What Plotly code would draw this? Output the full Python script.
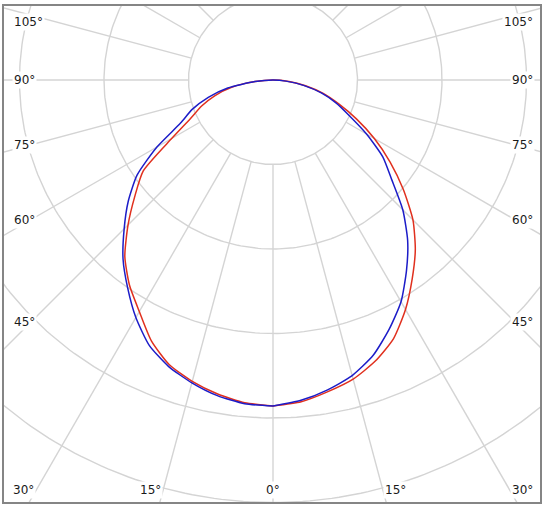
import numpy as np
import plotly.graph_objects as go

# Polar intensity data (cd/klm), gamma angle from nadir in degrees
gamma = [0, 5, 10, 15, 20, 25, 30, 35, 40, 45, 50, 55, 60, 65, 70, 75, 80, 85, 90]
c180 = [385.8, 384.6, 379.3, 371.0, 360.9, 346.5, 324.6, 300.0, 276.1, 249.1,
        223.7, 196.4, 158.6, 120.7, 101.8, 79.3, 54.4, 21.3, 0]   # blue, left
c0 = [385.8, 380.5, 372.3, 362.1, 346.7, 325.4, 303.0, 275.4, 247.9, 217.2,
      183.4, 158.6, 127.8, 99.4, 79.3, 59.2, 36.7, 15.4, 0]       # blue, right
c270 = [385.8, 383.4, 377.3, 369.2, 358.6, 340.6, 316.4, 296.2, 272.8, 242.6,
        213.3, 187.4, 138.5, 107.7, 89.9, 71.0, 49.7, 21.3, 0]    # red, left
c90 = [385.8, 382.2, 374.5, 366.5, 354.0, 337.6, 313.6, 287.2, 262.0, 234.2,
       201.2, 169.2, 138.5, 108.9, 82.8, 61.5, 39.1, 18.9, 0]     # red, right

ring_values = [100, 200, 300, 400, 500, 600, 700]
spoke_step = 15
side_labels = [105, 90, 75, 60, 45]
bottom_labels = [-30, -15, 0, 15, 30]

GRID = "#d4d4d4"
FRAME = "#858585"

def to_xy(angles, left, right):
    a_l = np.radians(np.array(angles[::-1], dtype=float))
    r_l = np.array(left[::-1], dtype=float)
    a_r = np.radians(np.array(angles, dtype=float))
    r_r = np.array(right, dtype=float)
    x = np.concatenate([-r_l * np.sin(a_l), r_r * np.sin(a_r)])
    y = np.concatenate([-r_l * np.cos(a_l), -r_r * np.cos(a_r)])
    return x, y

fig = go.Figure()

# rings
t = np.linspace(0, 2 * np.pi, 361)
gx, gy = [], []
for rv in ring_values:
    gx += list(rv * np.sin(t)) + [None]
    gy += list(rv * np.cos(t)) + [None]
# spokes (start at first ring)
for ang in np.arange(0, 360, spoke_step):
    a = np.radians(ang)
    gx += [ring_values[0] * np.sin(a), 2000 * np.sin(a), None]
    gy += [-ring_values[0] * np.cos(a), -2000 * np.cos(a), None]
fig.add_trace(go.Scatter(x=gx, y=gy, mode="lines", line=dict(color=GRID, width=1.4),
                         hoverinfo="skip", showlegend=False))

xr, yr = to_xy(gamma, c270, c90)
fig.add_trace(go.Scatter(x=xr, y=yr, mode="lines", name="C90-C270",
                         line=dict(color="#e0301e", width=1.5, shape="spline", smoothing=0.6),
                         showlegend=False))
xb, yb = to_xy(gamma, c180, c0)
fig.add_trace(go.Scatter(x=xb, y=yb, mode="lines", name="C0-C180",
                         line=dict(color="#1c1cc8", width=1.5, shape="spline", smoothing=0.6),
                         showlegend=False))

W, H = 548, 508
ml, mr, mt, mb = 4, 8, 6, 6
cx, cy = 273, 80
k = 100 / 84.5  # data units per pixel
side_x = 242 * k
bottom_y = 410 * k
left_x = (12 - cx) * k
right_x = (535 - cx) * k
font = dict(family="DejaVu Sans", size=12, color="#1a1a1a")
for lab in side_labels:
    a = np.radians(lab)
    yy = -side_x / np.tan(a) if lab != 90 else 0.0
    yy = min(yy, 58 * k)
    fig.add_annotation(x=left_x, y=yy, text=f"{lab}°", showarrow=False,
                       xanchor="left", yanchor="middle",
                       bgcolor="white", borderpad=1, font=font)
    fig.add_annotation(x=right_x, y=yy, text=f"{lab}°", showarrow=False,
                       xanchor="right", yanchor="middle",
                       bgcolor="white", borderpad=1, font=font)
for lab in bottom_labels:
    a = np.radians(lab)
    xx = bottom_y * np.tan(a)
    fig.add_annotation(x=xx, y=-bottom_y, text=f"{abs(lab)}°", showarrow=False,
                       xanchor="center" if lab == 0 else ("right" if lab < 0 else "left"),
                       yanchor="middle", bgcolor="white", borderpad=1, font=font)

fig.update_layout(
    width=W, height=H,
    margin=dict(l=ml, r=mr, t=mt, b=mb),
    paper_bgcolor="white", plot_bgcolor="white",
    xaxis=dict(range=[(ml - cx) * k, (W - mr - cx) * k], showgrid=False, zeroline=False,
               showticklabels=False, ticks="", showline=True, mirror=True,
               linecolor=FRAME, linewidth=2, fixedrange=True),
    yaxis=dict(range=[-(H - mb - cy) * k, (cy - mt) * k], showgrid=False, zeroline=False,
               showticklabels=False, ticks="", showline=True, mirror=True,
               linecolor=FRAME, linewidth=2, fixedrange=True),
    showlegend=False,
)

fig.write_html("out.html")
